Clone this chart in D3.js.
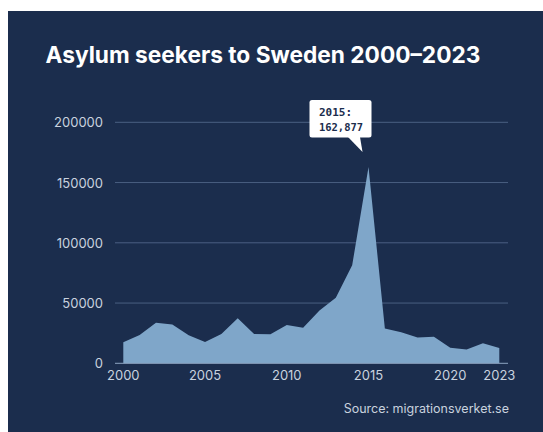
<!DOCTYPE html>
<html>
<head>
<meta charset="utf-8">
<script src="https://cdn.jsdelivr.net/npm/d3@7"></script>
<style>
  html, body { margin: 0; padding: 0; background: #fff; }
  svg { display: block; }
</style>
</head>
<body>
<svg width="543" height="432"></svg>
<script>
// data
const years = [2000, 2001, 2002, 2003, 2004, 2005, 2006, 2007, 2008, 2009, 2010, 2011,
               2012, 2013, 2014, 2015, 2016, 2017, 2018, 2019, 2020, 2021, 2022, 2023];
const seekers = [17500, 23500, 33600, 32300, 23200, 17600, 24300, 37300, 24400, 24200, 31800, 29600,
                 43900, 54300, 81300, 162877, 28900, 25700, 21500, 22000, 13000, 11400, 16700, 12600];
const yTicks = [0, 50000, 100000, 150000, 200000];
const xTicks = [2000, 2005, 2010, 2015, 2020, 2023];

const bg = "#1b2d4d";
const areaColor = "#7fa6c9";

const svg = d3.select("svg");

svg.append("rect")
    .attr("x", 8).attr("y", 11).attr("width", 535).attr("height", 421)
    .attr("fill", bg);

svg.append("text")
    .attr("x", 263).attr("y", 63)
    .attr("text-anchor", "middle")
    .attr("font-family", "Inter, 'DejaVu Sans', sans-serif")
    .attr("font-weight", "bold")
    .attr("font-size", "22.7px")
    .attr("fill", "#ffffff")
    .text("Asylum seekers to Sweden 2000\u20132023");

const x = d3.scaleLinear().domain([2000, 2023]).range([123.3, 499.3]);
const y = d3.scaleLinear().domain([0, 200000]).range([363.3, 122.3]);

// grid
svg.append("g").selectAll("line")
    .data(yTicks.filter(d => d > 0))
    .enter().append("line")
    .attr("x1", 115).attr("x2", 508)
    .attr("y1", d => y(d)).attr("y2", d => y(d))
    .attr("stroke", "#4a5f82").attr("stroke-width", 1);

const data = years.map((yr, i) => ({year: yr, value: seekers[i]}));

const area = d3.area()
    .x(d => x(d.year))
    .y0(y(0))
    .y1(d => y(d.value));

svg.append("path")
    .datum(data)
    .attr("d", area)
    .attr("fill", areaColor);

// baseline
svg.append("line")
    .attr("x1", 115).attr("x2", 508)
    .attr("y1", y(0)).attr("y2", y(0))
    .attr("stroke", "#8ea4c2").attr("stroke-width", 1);

// y labels
svg.append("g").selectAll("text")
    .data(yTicks)
    .enter().append("text")
    .attr("x", 103).attr("y", d => y(d) + 5)
    .attr("text-anchor", "end")
    .attr("font-family", "Inter, 'DejaVu Sans', sans-serif")
    .attr("font-size", "13px")
    .attr("fill", "#c9d2df")
    .text(d => d);

// x labels
svg.append("g").selectAll("text")
    .data(xTicks)
    .enter().append("text")
    .attr("x", d => x(d)).attr("y", 380)
    .attr("text-anchor", "middle")
    .attr("font-family", "Inter, 'DejaVu Sans', sans-serif")
    .attr("font-size", "13px")
    .attr("fill", "#c9d2df")
    .text(d => d);

// callout
const peak = data[15];
const px = x(peak.year), py = y(peak.value);
const tip = svg.append("g");
tip.append("rect")
    .attr("x", 309.5).attr("y", 100).attr("width", 62).attr("height", 37.5)
    .attr("rx", 2.5)
    .attr("fill", "#ffffff");
tip.append("path")
    .attr("d", `M348,137 L${px - 6},${py - 15} L360,137 Z`)
    .attr("fill", "#ffffff");
tip.append("text")
    .attr("x", 319).attr("y", 116)
    .attr("font-family", "'DejaVu Sans Mono', monospace")
    .attr("font-weight", "bold")
    .attr("font-size", "11px")
    .attr("fill", bg)
    .text(peak.year + ":");
tip.append("text")
    .attr("x", 319).attr("y", 130.5)
    .attr("font-family", "'DejaVu Sans Mono', monospace")
    .attr("font-weight", "bold")
    .attr("font-size", "11px")
    .attr("textLength", 44).attr("lengthAdjust", "spacingAndGlyphs")
    .attr("fill", bg)
    .text(d3.format(",")(peak.value));

svg.append("text")
    .attr("x", 509).attr("y", 413)
    .attr("text-anchor", "end")
    .attr("font-family", "Inter, 'DejaVu Sans', sans-serif")
    .attr("font-size", "12.5px")
    .attr("fill", "#c9d2df")
    .text("Source: migrationsverket.se");
</script>
</body>
</html>
